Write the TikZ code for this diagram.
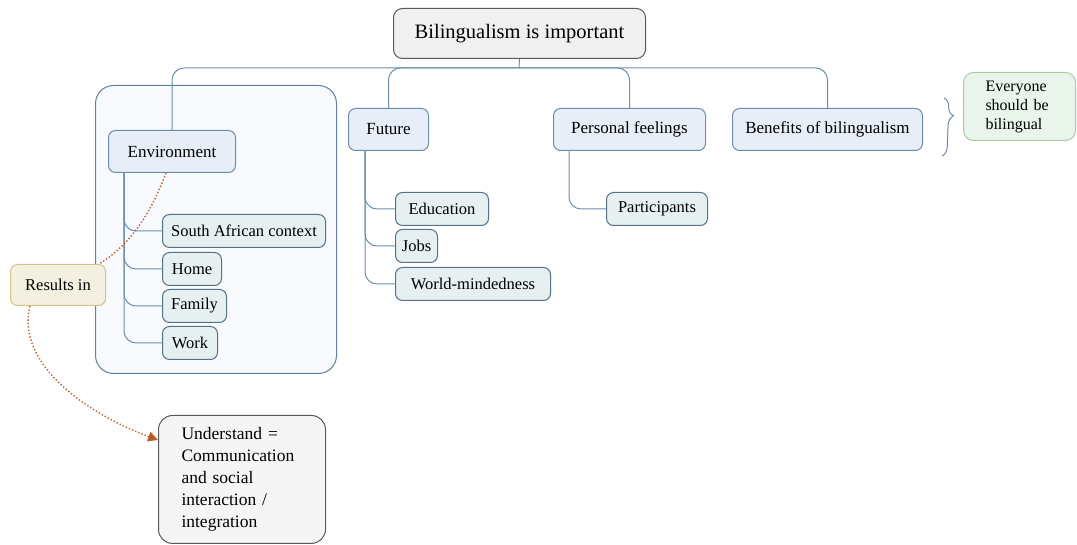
\documentclass[tikz,border=0pt]{standalone}
\usepackage{fontspec}
\setmainfont{Liberation Serif}
\usetikzlibrary{arrows.meta,decorations.pathreplacing}
\definecolor{linkblue}{HTML}{6D8DB0}
\definecolor{mainfill}{HTML}{E8EEF8}
\definecolor{subfill}{HTML}{E6F0F1}
\definecolor{grpfill}{HTML}{F8FAFD}
\definecolor{resfill}{HTML}{F3F0E1}
\definecolor{resline}{HTML}{D6C483}
\definecolor{allfill}{HTML}{E9F4EB}
\definecolor{allline}{HTML}{A3CDA8}
\definecolor{dotbrown}{HTML}{C0622F}
\tikzset{
	box/.style={draw, rounded corners=7, line width=1pt, inner sep=0pt, anchor=north west},
	topbox/.style={box, fill=gray!12, draw=gray!130, rounded corners=9, font=\fontsize{20.5}{24}\selectfont},
	grpbox/.style={box, fill=grpfill, draw=linkblue!90!black, rounded corners=18},
	mainbox/.style={box, fill=mainfill, draw=linkblue, minimum height=42, font=\fontsize{17}{20}\selectfont},
	subbox/.style={box, anchor=west, fill=subfill, draw=linkblue!80!black, minimum height=33, font=\fontsize{16.5}{19}\selectfont},
	link/.style={draw=linkblue, line width=1pt, rounded corners=12},
	dots/.style={draw=dotbrown, dotted, line width=1.4pt}
}
\begin{document}
\begin{tikzpicture}[x=1pt,y=-1pt]
	\useasboundingbox (0,0) rectangle (1077,545);
	\node[topbox, minimum width=252, minimum height=50] (top) at (393,8) {Bilingualism is important};
	\node[grpbox, minimum width=241, minimum height=288] (grp) at (95,85) {};
	\node[mainbox, minimum width=127] (env) at (108,130) {Environment};
	\node[mainbox, minimum width=80] (fut) at (348,108) {Future};
	\node[mainbox, minimum width=152] (pers) at (553,108) {Personal feelings};
	\node[mainbox, minimum width=190] (ben) at (732,108) {Benefits of bilingualism};
	\node[subbox, minimum width=163] (sac) at (162,231) {South African context};
	\node[subbox, minimum width=59] (home) at (162,269) {Home};
	\node[subbox, minimum width=64] (fam) at (162,306) {Family};
	\node[subbox, minimum width=55] (work) at (162,343) {Work};
	\node[subbox, minimum width=93] (edu) at (395,209) {Education};
	\node[subbox, minimum width=42] (jobs) at (395,246) {Jobs};
	\node[subbox, minimum width=155] (wm) at (395,284) {World-mindedness};
	\node[subbox, minimum width=101] (part) at (606,209) {Participants};
	\node[box, fill=resfill, draw=resline, minimum width=95, minimum height=41, font=\fontsize{16.5}{19}\selectfont] (res) at (10,264) {Results in};
	\node[box, fill=gray!8, draw=gray!130, rounded corners=14, align=left, text width=121, inner xsep=23, inner ysep=12, font=\fontsize{17.5}{22}\selectfont] (und) at (158,415) {Understand =\\Communication\\and social\\interaction /\\integration\\[4pt]};
	\node[box, fill=allfill, draw=allline, rounded corners=10, align=left, text width=68, inner xsep=22, minimum height=68, font=\fontsize{16}{19}\selectfont] (all) at (963,72) {Everyone\\should be\\bilingual};
	\coordinate (bar) at (519,68);
	\draw[link] (top.south) -- (bar);
	\draw[link] (bar) -| (env.north);
	\draw[link] (bar) -| (fut.north);
	\draw[link] (bar) -| (pers.north);
	\draw[link] (bar) -| (ben.north);
	\coordinate (et) at ([xshift=16]env.south west);
	\coordinate (ft) at ([xshift=17]fut.south west);
	\coordinate (pt) at ([xshift=16]pers.south west);
	\foreach \n in {sac,home,fam,work} \draw[link] (et) |- (\n.west);
	\foreach \n in {edu,jobs,wm} \draw[link] (ft) |- (\n.west);
	\draw[link] (pt) |- (part.west);
	\draw[draw=linkblue!70!gray, line width=1pt, decorate, decoration={brace, amplitude=10pt, aspect=0.3}] ([xshift=21,yshift=10]ben.north east) -- ([xshift=19,yshift=-5]ben.south east);
	\draw[dots] ([xshift=-6]env.south) .. controls (150,215) and (130,245) .. ([xshift=-7]res.north east);
	\draw[dots, -{Triangle[length=10pt,width=10pt,fill=dotbrown!90!black]}] ([xshift=20]res.south west) .. controls (15,365) and (90,415) .. ([yshift=-25]und.north west);
\end{tikzpicture}
\end{document}
